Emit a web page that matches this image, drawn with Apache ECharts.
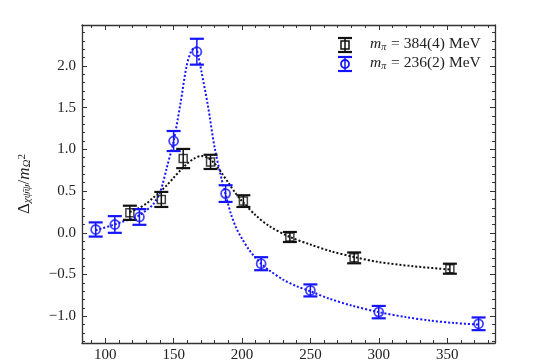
<!DOCTYPE html>
<html><head><meta charset="utf-8">
<script src="https://cdn.jsdelivr.net/npm/echarts@6/dist/echarts.min.js"></script>
<style>html,body{margin:0;padding:0;background:#fff}#c{width:550px;height:363px}</style>
</head><body><div id="c"></div>
<script>
// data: black squares (m_pi = 384 MeV)
const blackX = [118, 141, 157, 177, 201, 235, 282, 352];
const blackY = [0.24, 0.40, 0.89, 0.85, 0.38, -0.05, -0.30, -0.43];
const blackErr = [0.085, 0.09, 0.115, 0.085, 0.07, 0.06, 0.065, 0.06];
// data: blue circles (m_pi = 236 MeV)
const blueX = [93, 107, 125, 150, 167, 188, 214, 250, 300, 373];
const blueY = [0.04, 0.10, 0.19, 1.10, 2.17, 0.47, -0.37, -0.69, -0.95, -1.09];
const blueErr = [0.085, 0.10, 0.094, 0.12, 0.155, 0.10, 0.078, 0.072, 0.074, 0.076];
// dotted fit curves
const blackFitX = [118, 125, 130, 135, 140, 145, 150, 155, 160, 165, 170, 175, 180, 185, 190, 195, 200, 210, 220, 235, 250, 265, 282, 300, 325, 352];
const blackFitY = [0.25, 0.30, 0.35, 0.42, 0.49, 0.57, 0.66, 0.75, 0.83, 0.89, 0.92, 0.90, 0.83, 0.72, 0.60, 0.48, 0.38, 0.21, 0.08, -0.05, -0.14, -0.22, -0.29, -0.35, -0.40, -0.44];
const blueFitX = [93, 97, 105, 112, 120, 125, 130, 135, 140, 145, 150, 155, 159.5, 163, 166, 168, 170.5, 175, 180, 185, 188, 192, 196, 200, 205, 210, 214, 220, 230, 240, 250, 264, 280, 300, 320, 337, 355, 373];
const blueFitY = [0.03, 0.05, 0.09, 0.13, 0.17, 0.21, 0.27, 0.34, 0.48, 0.78, 1.10, 1.55, 2.00, 2.18, 2.22, 2.12, 1.92, 1.53, 1.02, 0.65, 0.46, 0.22, 0.05, -0.07, -0.20, -0.30, -0.37, -0.45, -0.56, -0.64, -0.70, -0.79, -0.87, -0.95, -1.01, -1.05, -1.08, -1.10];
// ticks
const xMajor = [100, 150, 200, 250, 300, 350];
const xMinor = [90, 100, 110, 120, 130, 140, 150, 160, 170, 180, 190, 200, 210, 220, 230, 240, 250, 260, 270, 280, 290, 300, 310, 320, 330, 340, 350, 360, 370, 380];
const yMajor = [-1.0, -0.5, 0.0, 0.5, 1.0, 1.5, 2.0];
const yMinor = [-1.3, -1.2, -1.1, -1.0, -0.9, -0.8, -0.7, -0.6, -0.5, -0.4, -0.3, -0.2, -0.1, 0.0, 0.1, 0.2, 0.3, 0.4, 0.5, 0.6, 0.7, 0.8, 0.9, 1.0, 1.1, 1.2, 1.3, 1.4, 1.5, 1.6, 1.7, 1.8, 1.9, 2.0, 2.1, 2.2, 2.3, 2.4];
const legendLabels = ['384(4)', '236(2)'];

const BLUE = '#1414ff', BLACK = '#111';
const FONT = 'Liberation Serif';
const AX = '#333';

function zip3(x, y, e) { return x.map((v, i) => [v, y[i], e ? e[i] : 0]); }

function xAx(pos, vals, len, main) {
  return {
    type: 'value', position: pos, min: 83, max: 385,
    axisLine: { show: main, onZero: false, lineStyle: { color: AX, width: 1.3 } },
    axisTick: { show: true, inside: true, length: len, customValues: vals, lineStyle: { color: AX, width: 1 } },
    axisLabel: { show: main && pos === 'bottom', customValues: xMajor, color: '#222', fontFamily: FONT, fontSize: 15, margin: 5 },
    splitLine: { show: false }
  };
}
function yAx(pos, vals, len, main) {
  const o = {
    type: 'value', position: pos, min: -1.32, max: 2.49,
    axisLine: { show: main, onZero: false, lineStyle: { color: AX, width: 1.3 } },
    axisTick: { show: true, inside: true, length: len, customValues: vals, lineStyle: { color: AX, width: 1 } },
    axisLabel: { show: main && pos === 'left', customValues: yMajor, color: '#222', fontFamily: FONT, fontSize: 15, margin: 6,
      formatter: v => v.toFixed(1).replace('-', '\u2212') },
    splitLine: { show: false }
  };
  if (main && pos === 'left') {
    o.name = '{d|\u0394}{s|\u03c7\u03c8\u0304\u03c8}{t|/}{m|m}{s|\u03a9}{u|2}';
    o.nameLocation = 'middle';
    o.nameRotate = 90;
    o.nameGap = 49;
    o.nameTextStyle = {
      fontFamily: FONT, color: '#222',
      rich: {
        d: { fontFamily: FONT, fontSize: 17, color: '#222', verticalAlign: 'bottom', lineHeight: 22 },
        s: { fontFamily: FONT, fontSize: 11, color: '#222', fontStyle: 'italic', verticalAlign: 'bottom', lineHeight: 12 },
        t: { fontFamily: FONT, fontSize: 17, color: '#222', verticalAlign: 'bottom', lineHeight: 22 },
        m: { fontFamily: FONT, fontSize: 17, color: '#222', fontStyle: 'italic', verticalAlign: 'bottom', lineHeight: 22 },
        u: { fontFamily: FONT, fontSize: 11, color: '#222', verticalAlign: 'bottom', lineHeight: 12, padding: [0, 0, 5, 0] }
      }
    };
  }
  return o;
}

function errRender(color, lw) {
  return function (params, api) {
    const x = api.value(0), y = api.value(1), e = api.value(2);
    const t = api.coord([x, y + e]), b = api.coord([x, y - e]);
    const h = 7;
    const st = { stroke: color, lineWidth: lw };
    return { type: 'group', children: [
      { type: 'line', shape: { x1: t[0], y1: t[1], x2: b[0], y2: b[1] }, style: { stroke: color, lineWidth: 1.5 } },
      { type: 'line', shape: { x1: t[0] - h, y1: t[1], x2: t[0] + h, y2: t[1] }, style: st },
      { type: 'line', shape: { x1: b[0] - h, y1: b[1], x2: b[0] + h, y2: b[1] }, style: st }
    ]};
  };
}

const chart = echarts.init(document.getElementById('c'), null, { renderer: 'canvas' });

function legendRow(y, color, sym, label) {
  const cx = 345, h = 7, e = 7;
  const st = { stroke: color, lineWidth: 2.2, fill: null };
  const marker = sym === 'rect'
    ? { type: 'rect', shape: { x: cx - 4, y: y - 4, width: 8, height: 8 }, style: { stroke: color, lineWidth: 1.5, fill: null } }
    : { type: 'circle', shape: { cx: cx, cy: y, r: 4 }, style: { stroke: color, lineWidth: 1.8, fill: null } };
  return [
    { type: 'line', shape: { x1: cx, y1: y - e, x2: cx, y2: y + e }, style: { stroke: color, lineWidth: 1.5 } },
    { type: 'line', shape: { x1: cx - h, y1: y - e, x2: cx + h, y2: y - e }, style: st },
    { type: 'line', shape: { x1: cx - h, y1: y + e, x2: cx + h, y2: y + e }, style: st },
    marker,
    { type: 'text', left: 370, top: y - 9, style: {
      text: '{m|m}{s|\u03c0}{t| = ' + label + ' MeV}',
      rich: {
        m: { fontFamily: FONT, fontSize: 15.5, fontStyle: 'italic', fill: '#222', verticalAlign: 'bottom', lineHeight: 18 },
        s: { fontFamily: FONT, fontSize: 10, fontStyle: 'italic', fill: '#222', verticalAlign: 'bottom', lineHeight: 11, padding: [0, 1, 0, 0] },
        t: { fontFamily: FONT, fontSize: 15.5, fill: '#222', verticalAlign: 'bottom', lineHeight: 18 }
      }
    } }
  ];
}

chart.setOption({
  animation: false,
  backgroundColor: '#fff',
  grid: { left: 82, right: 55, top: 25, bottom: 20 },
  xAxis: [xAx('bottom', xMajor, 5, true), xAx('bottom', xMinor, 3, false), xAx('top', xMajor, 5, true), xAx('top', xMinor, 3, false)],
  yAxis: [yAx('left', yMajor, 5, true), yAx('left', yMinor, 3, false), yAx('right', yMajor, 5, true), yAx('right', yMinor, 3, false)],
  series: [
    { type: 'line', data: zip3(blackFitX, blackFitY), smooth: 0.3, showSymbol: false, z: 1,
      lineStyle: { color: BLACK, width: 2, type: [2, 2] } },
    { type: 'line', data: zip3(blueFitX, blueFitY), smooth: 0.3, showSymbol: false, z: 1,
      lineStyle: { color: BLUE, width: 2, type: [2, 2] } },
    { type: 'custom', data: zip3(blackX, blackY, blackErr), renderItem: errRender(BLACK, 2.2), z: 3 },
    { type: 'custom', data: zip3(blueX, blueY, blueErr), renderItem: errRender(BLUE, 2.2), z: 3 },
    { type: 'scatter', data: zip3(blackX, blackY), symbol: 'rect', symbolSize: 8, z: 4,
      itemStyle: { color: 'rgba(0,0,0,0)', borderColor: BLACK, borderWidth: 1.5 } },
    { type: 'scatter', data: zip3(blueX, blueY), symbol: 'circle', symbolSize: 9, z: 4,
      itemStyle: { color: 'rgba(0,0,0,0)', borderColor: BLUE, borderWidth: 1.8 } }
  ],
  graphic: [].concat(legendRow(45, BLACK, 'rect', legendLabels[0]), legendRow(64, BLUE, 'circle', legendLabels[1]))
});
</script></body></html>
